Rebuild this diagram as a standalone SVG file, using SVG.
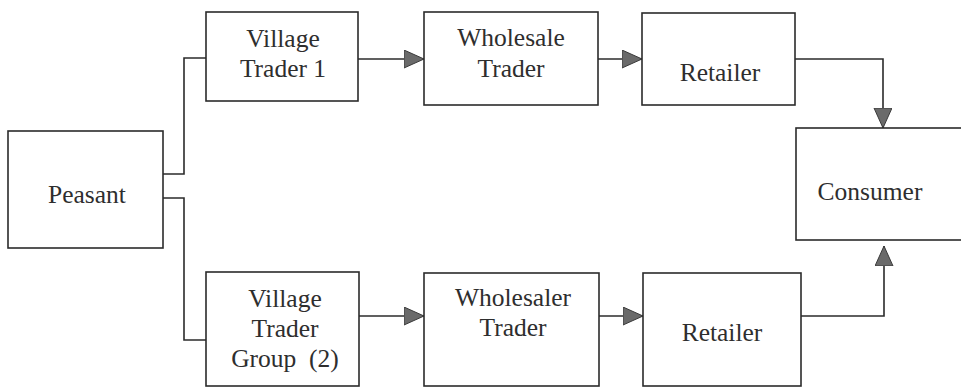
<svg xmlns="http://www.w3.org/2000/svg" width="961" height="388" viewBox="0 0 961 388">
<style>
.box{fill:#fff;stroke:#2b2b2b;stroke-width:1.6}
.lbl{font-family:'Liberation Serif','Times New Roman',serif;font-size:25.5px;fill:#2e2e2e;text-anchor:middle}
.conn{fill:none;stroke:#2b2b2b;stroke-width:1.6}
</style>
<defs>
<marker id="ah" markerUnits="userSpaceOnUse" markerWidth="22" markerHeight="20" refX="20" refY="9" orient="auto">
<path d="M0,0 L20,9 L0,18 Z" fill="#6a6a6a" stroke="#3a3a3a" stroke-width="1"/>
</marker>
</defs>
<rect width="961" height="388" fill="#fff"/>
<g id="connectors">
<path class="conn" d="M163,174 H184 V58 H206"/>
<path class="conn" d="M163,198 H184 V340 H206"/>
<path class="conn" d="M358,59 H424" marker-end="url(#ah)"/>
<path class="conn" d="M598,59 H642" marker-end="url(#ah)"/>
<path class="conn" d="M795,59 H883 V128" marker-end="url(#ah)"/>
<path class="conn" d="M359,316 H424" marker-end="url(#ah)"/>
<path class="conn" d="M599,316 H643" marker-end="url(#ah)"/>
<path class="conn" d="M801,316 H884 V246" marker-end="url(#ah)"/>
</g>
<g id="peasant">
<rect class="box" x="8" y="131" width="155" height="117"/>
<text class="lbl" x="87" y="203">Peasant</text>
</g>
<g id="village-trader-1">
<rect class="box" x="206" y="12" width="152" height="89"/>
<text class="lbl" x="283" y="47">Village</text>
<text class="lbl" x="283" y="77">Trader 1</text>
</g>
<g id="wholesale-trader">
<rect class="box" x="424" y="12" width="174" height="93"/>
<text class="lbl" x="511" y="46">Wholesale</text>
<text class="lbl" x="511" y="77">Trader</text>
</g>
<g id="retailer-top">
<rect class="box" x="642" y="13" width="153" height="92"/>
<text class="lbl" x="720" y="81">Retailer</text>
</g>
<g id="consumer">
<rect class="box" x="796" y="128" width="180" height="112"/>
<text class="lbl" x="870" y="200">Consumer</text>
</g>
<g id="village-trader-group">
<rect class="box" x="206" y="272" width="153" height="114"/>
<text class="lbl" x="285" y="307">Village</text>
<text class="lbl" x="285" y="337">Trader</text>
<text class="lbl" x="285" y="367" xml:space="preserve">Group  (2)</text>
</g>
<g id="wholesaler-trader">
<rect class="box" x="424" y="273" width="175" height="113"/>
<text class="lbl" x="513" y="306">Wholesaler</text>
<text class="lbl" x="513" y="336">Trader</text>
</g>
<g id="retailer-bottom">
<rect class="box" x="643" y="273" width="158" height="113"/>
<text class="lbl" x="722" y="341">Retailer</text>
</g>
</svg>
